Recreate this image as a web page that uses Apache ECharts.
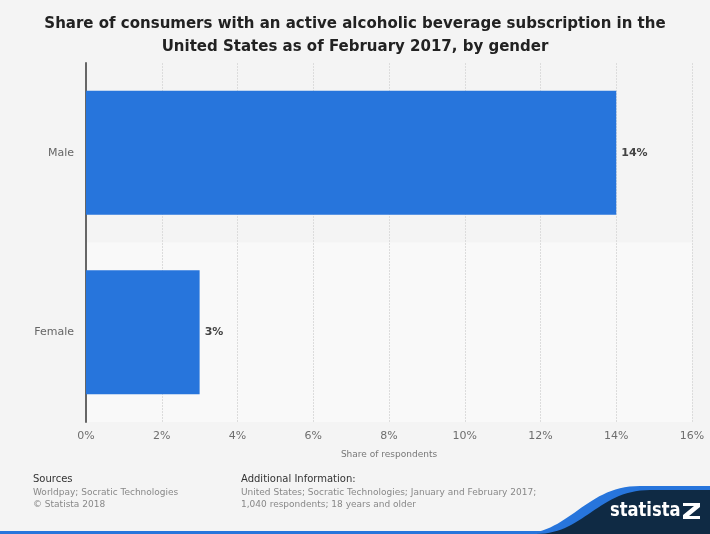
<!DOCTYPE html>
<html>
<head>
<meta charset="utf-8">
<script src="https://cdn.jsdelivr.net/npm/echarts@6/dist/echarts.min.js"></script>
<style>
  html, body { margin: 0; padding: 0; background: #f4f4f4; }
  #chart { width: 710px; height: 534px; }
</style>
</head>
<body>
<div id="chart"></div>
<script>
const categories = ['Male', 'Female'];
const shares = [14, 3];
const ticks = [0, 2, 4, 6, 8, 10, 12, 14, 16];

const font = 'DejaVu Sans';
const chart = echarts.init(document.getElementById('chart'));

// footer swoosh: cubic curve turned into polygon points
function swoosh(x0, x1, x2, x3, yTop) {
  const pts = [];
  for (let i = 0; i <= 30; i++) {
    const t = i / 30, u = 1 - t;
    const x = u*u*u*x0 + 3*u*u*t*x1 + 3*u*t*t*x2 + t*t*t*x3;
    const y = u*u*u*534 + 3*u*u*t*534 + 3*u*t*t*yTop + t*t*t*yTop;
    pts.push([x, y]);
  }
  pts.push([710, yTop], [710, 534]);
  return pts;
}

const option = {
  backgroundColor: '#f4f4f4',
  animation: false,
  title: {
    text: 'Share of consumers with an active alcoholic beverage subscription in the\nUnited States as of February 2017, by gender',
    left: 'center',
    top: 8,
    textStyle: {
      fontFamily: font,
      fontWeight: 'bold',
      fontSize: 15,
      lineHeight: 23,
      color: '#222'
    }
  },
  grid: { left: 86, right: 18, top: 63, bottom: 112 },
  xAxis: {
    type: 'value',
    min: ticks[0],
    max: ticks[ticks.length - 1],
    interval: 2,
    name: 'Share of respondents',
    nameLocation: 'middle',
    nameGap: 28,
    nameTextStyle: { fontFamily: font, fontSize: 9, color: '#777' },
    axisLine: { show: false },
    axisTick: { show: false },
    axisLabel: { fontFamily: font, fontSize: 11, color: '#6e6e6e', margin: 9, formatter: '{value}%' },
    splitLine: { show: true, lineStyle: { color: '#dcdcdc', type: [2, 1], width: 1 } }
  },
  yAxis: {
    type: 'category',
    data: categories,
    inverse: true,
    axisLine: { show: true, lineStyle: { color: '#666', width: 2 } },
    axisTick: { show: false },
    axisLabel: { fontFamily: font, fontSize: 11, color: '#666', margin: 12 },
    splitArea: { show: true, areaStyle: { color: ['#f4f4f4', '#f9f9f9'] } }
  },
  series: [{
    type: 'bar',
    data: shares,
    barCategoryGap: '31%',
    itemStyle: { color: '#2775dc' },
    label: {
      show: true,
      position: 'right',
      distance: 5,
      formatter: '{c}%',
      fontFamily: font,
      fontSize: 11,
      fontWeight: 'bold',
      color: '#444'
    }
  }],
  graphic: {
    elements: [
      { type: 'text', x: 33, y: 474, style: { text: 'Sources', font: '10px "DejaVu Sans"', fill: '#333' } },
      { type: 'text', x: 33, y: 487, style: { text: 'Worldpay; Socratic Technologies\n\u00a9 Statista 2018', font: '9px "DejaVu Sans"', fill: '#888', lineHeight: 12 } },
      { type: 'text', x: 241, y: 474, style: { text: 'Additional Information:', font: '10px "DejaVu Sans"', fill: '#333' } },
      { type: 'text', x: 241, y: 487, style: { text: 'United States; Socratic Technologies; January and February 2017;\n1,040 respondents; 18 years and older', font: '9px "DejaVu Sans"', fill: '#888', lineHeight: 12 } },
      { type: 'rect', shape: { x: 0, y: 531, width: 710, height: 3 }, style: { fill: '#2775dc' } },
      { type: 'polygon', shape: { points: swoosh(520, 570, 585, 640, 486) }, style: { fill: '#2775dc' } },
      { type: 'polygon', shape: { points: swoosh(536, 584, 598, 650, 490) }, style: { fill: '#0f2a44' } },
      { type: 'text', x: 610, y: 502, scaleX: 0.86, style: { text: 'statista', font: 'bold 19px "DejaVu Sans"', fill: '#fff' } },
      { type: 'polygon', shape: { points: [[683,503],[700,503],[700,507],[689,516],[700,516],[700,519],[683,519],[683,515],[694,506],[683,506]] }, style: { fill: '#fff' } }
    ]
  }
};

chart.setOption(option);
</script>
</body>
</html>
